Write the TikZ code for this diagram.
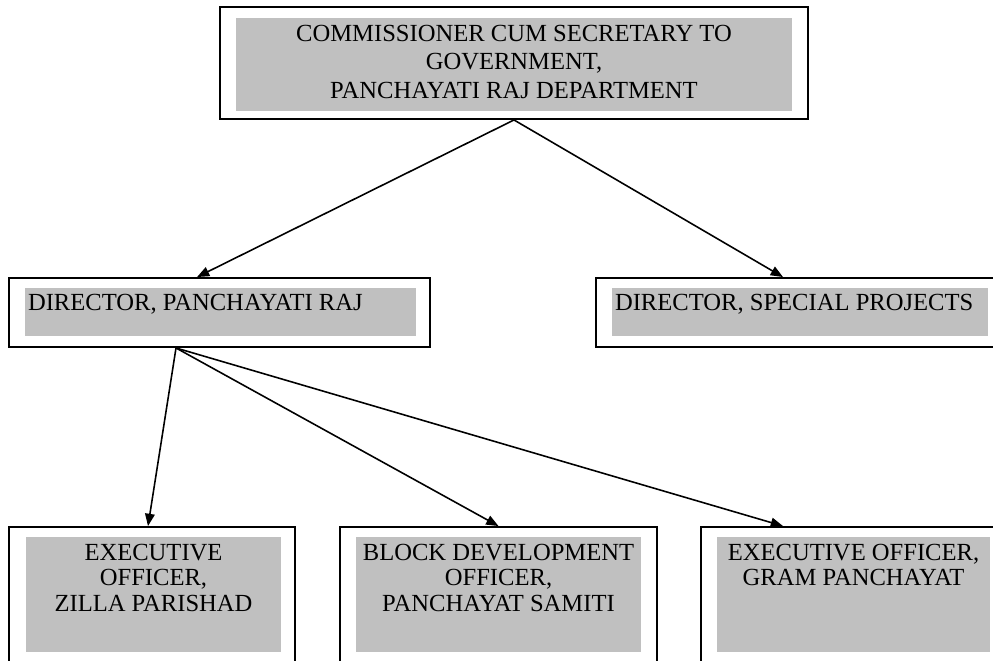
\documentclass[tikz,border=0pt]{standalone}
\usepackage{fontspec}
\setmainfont{Liberation Serif}
\usetikzlibrary{arrows.meta}
\definecolor{BoxGray}{RGB}{192,192,192}

\begin{document}
\begin{tikzpicture}[x=0.02cm,y=-0.02cm,
outerbox/.style={draw,line width=1.1pt,fill=white,inner sep=0pt},
greybox/.style={fill=BoxGray,inner sep=0pt},
lbl/.style={inner sep=0pt,align=center,font=\fontsize{14}{16.2}\selectfont},
low/.style={lbl,font=\fontsize{14}{14.6}\selectfont},
link/.style={-{Triangle[length=7pt,width=5.5pt]},line width=0.9pt}]

\useasboundingbox (0,0) rectangle (993,660);
\clip (0,0) rectangle (993,660);

\node[outerbox,minimum width=11.76cm,minimum height=2.24cm] (comm) at (514,63) {};
\node[greybox,minimum width=11.12cm,minimum height=1.86cm] (commg) at (514,64.5) {};
\node[lbl,anchor=north] (commt) at ([yshift=-0.14cm]commg.north) {COMMISSIONER CUM SECRETARY TO\\GOVERNMENT,\\PANCHAYATI RAJ DEPARTMENT};

\node[outerbox,minimum width=8.42cm,minimum height=1.38cm] (dpr) at (219.5,312.5) {};
\node[greybox,minimum width=7.82cm,minimum height=0.96cm] (dprg) at (220.5,312) {};
\node[lbl,anchor=north west] (dprt) at ([xshift=0.06cm,yshift=-0.12cm]dprg.north west) {DIRECTOR, PANCHAYATI RAJ};

\node[outerbox,minimum width=8.16cm,minimum height=1.38cm] (dsp) at (800,312.5) {};
\node[greybox,minimum width=7.52cm,minimum height=0.96cm] (dspg) at (800,312) {};
\node[lbl,anchor=north west] (dspt) at ([xshift=0.06cm,yshift=-0.12cm]dspg.north west) {DIRECTOR, SPECIAL PROJECTS};

\node[outerbox,minimum width=5.72cm,minimum height=2.86cm] (ezp) at (152,598.5) {};
\node[greybox,minimum width=5.1cm,minimum height=2.3cm] (ezpg) at (153.5,594.5) {};
\node[low,anchor=north] (ezpt) at ([yshift=-0.14cm]ezpg.north) {EXECUTIVE\\OFFICER,\\ZILLA PARISHAD};

\node[outerbox,minimum width=6.34cm,minimum height=2.86cm] (bdo) at (498.5,598.5) {};
\node[greybox,minimum width=5.7cm,minimum height=2.3cm] (bdog) at (498.5,594.5) {};
\node[low,anchor=north] (bdot) at ([yshift=-0.14cm]bdog.north) {BLOCK DEVELOPMENT\\OFFICER,\\PANCHAYAT SAMITI};

\node[outerbox,minimum width=6.1cm,minimum height=2.86cm] (gp) at (853.5,598.5) {};
\node[greybox,minimum width=5.46cm,minimum height=2.3cm] (gpg) at (853.5,594.5) {};
\node[low,anchor=north] (gpt) at ([yshift=-0.14cm]gpg.north) {EXECUTIVE OFFICER,\\GRAM PANCHAYAT};

\draw[link] (comm.south) -- ([xshift=-0.45cm]dpr.north);
\draw[link] (comm.south) -- ([xshift=-0.34cm]dsp.north);
\draw[link] ([xshift=-0.87cm]dpr.south) -- ([xshift=-0.08cm]ezp.north);
\draw[link] ([xshift=-0.87cm]dpr.south) -- (bdo.north);
\draw[link] ([xshift=-0.87cm]dpr.south) -- ([xshift=-1.41cm]gp.north);

\end{tikzpicture}
\end{document}
